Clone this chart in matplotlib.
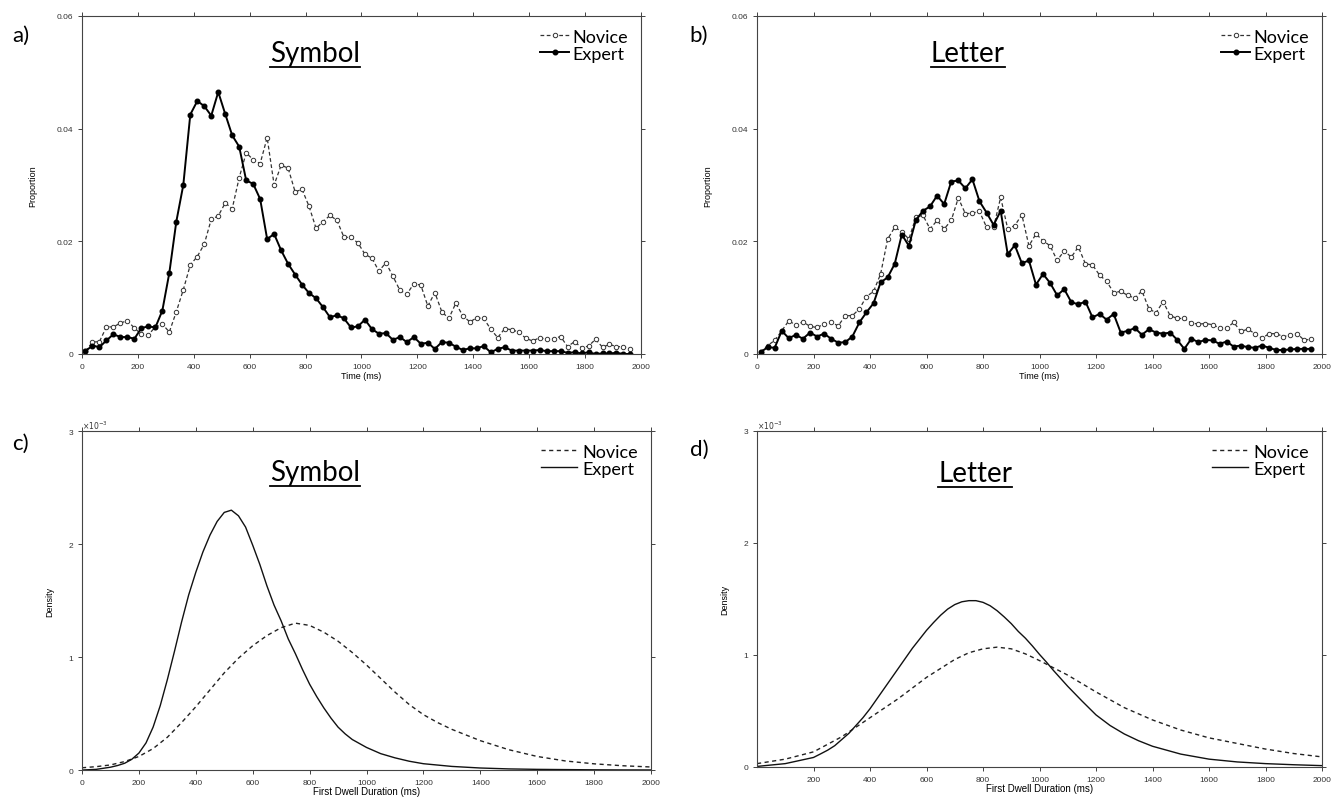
import numpy as np
import matplotlib
matplotlib.use("Agg")
import matplotlib.pyplot as plt

# time bins (ms), 25 ms wide, for the proportion plots
t_bins = np.arange(12.5, 1975, 25)

# panel a - symbol, proportion of first fixations
sym_novice = [0.0005, 0.0021, 0.0022, 0.0048, 0.0048, 0.0055, 0.0059, 0.0046, 0.0035, 0.0034,
              0.0048, 0.0053, 0.0039, 0.0075, 0.0114, 0.0158, 0.0173, 0.0195, 0.0239, 0.0245,
              0.0268, 0.0258, 0.0313, 0.0357, 0.0345, 0.0338, 0.0384, 0.0300, 0.0335, 0.0330,
              0.0288, 0.0292, 0.0262, 0.0223, 0.0235, 0.0246, 0.0237, 0.0207, 0.0207, 0.0197,
              0.0177, 0.0170, 0.0147, 0.0162, 0.0138, 0.0113, 0.0106, 0.0125, 0.0122, 0.0085,
              0.0109, 0.0075, 0.0063, 0.0090, 0.0068, 0.0057, 0.0064, 0.0063, 0.0044, 0.0029,
              0.0045, 0.0043, 0.0039, 0.0028, 0.0023, 0.0029, 0.0026, 0.0027, 0.0031, 0.0013,
              0.0022, 0.0011, 0.0014, 0.0026, 0.0012, 0.0017, 0.0013, 0.0013, 0.0009]
sym_expert = [0.0005, 0.0015, 0.0012, 0.0024, 0.0035, 0.0030, 0.0030, 0.0027, 0.0046, 0.0049,
              0.0047, 0.0077, 0.0144, 0.0235, 0.0300, 0.0425, 0.0449, 0.0440, 0.0423, 0.0465,
              0.0426, 0.0388, 0.0368, 0.0308, 0.0302, 0.0275, 0.0204, 0.0213, 0.0184, 0.0160,
              0.0141, 0.0123, 0.0108, 0.0099, 0.0083, 0.0065, 0.0069, 0.0063, 0.0047, 0.0049,
              0.0061, 0.0044, 0.0036, 0.0037, 0.0025, 0.0030, 0.0021, 0.0030, 0.0018, 0.0020,
              0.0009, 0.0021, 0.0020, 0.0013, 0.0007, 0.0010, 0.0010, 0.0014, 0.0003, 0.0009,
              0.0012, 0.0006, 0.0006, 0.0006, 0.0006, 0.0007, 0.0005, 0.0005, 0.0005, 0.0002,
              0.0003, 0.0001, 0.0003, 0.0000, 0.0001, 0.0001, 0.0002, 0.0000, 0.0000]

# panel b - letter
let_novice = [0.0003, 0.0015, 0.0024, 0.0041, 0.0059, 0.0051, 0.0057, 0.0049, 0.0047, 0.0053,
              0.0056, 0.0050, 0.0068, 0.0068, 0.0080, 0.0102, 0.0111, 0.0142, 0.0204, 0.0225,
              0.0217, 0.0204, 0.0243, 0.0246, 0.0222, 0.0237, 0.0222, 0.0237, 0.0277, 0.0249,
              0.0250, 0.0253, 0.0225, 0.0225, 0.0278, 0.0222, 0.0228, 0.0247, 0.0192, 0.0213,
              0.0201, 0.0192, 0.0166, 0.0183, 0.0172, 0.0190, 0.0160, 0.0158, 0.0140, 0.0129,
              0.0109, 0.0111, 0.0104, 0.0099, 0.0112, 0.0080, 0.0073, 0.0093, 0.0068, 0.0063,
              0.0063, 0.0055, 0.0053, 0.0054, 0.0052, 0.0046, 0.0046, 0.0056, 0.0040, 0.0044,
              0.0036, 0.0028, 0.0036, 0.0036, 0.0031, 0.0033, 0.0036, 0.0024, 0.0027]
let_expert = [0.0003, 0.0012, 0.0011, 0.0041, 0.0028, 0.0034, 0.0027, 0.0038, 0.0031, 0.0036,
              0.0027, 0.0020, 0.0021, 0.0031, 0.0056, 0.0074, 0.0090, 0.0127, 0.0136, 0.0160,
              0.0212, 0.0192, 0.0238, 0.0254, 0.0262, 0.0281, 0.0266, 0.0306, 0.0308, 0.0294,
              0.0310, 0.0271, 0.0251, 0.0229, 0.0254, 0.0177, 0.0193, 0.0161, 0.0166, 0.0123,
              0.0142, 0.0126, 0.0104, 0.0115, 0.0092, 0.0088, 0.0093, 0.0065, 0.0071, 0.0061,
              0.0071, 0.0038, 0.0041, 0.0046, 0.0034, 0.0044, 0.0038, 0.0036, 0.0038, 0.0025,
              0.0009, 0.0027, 0.0021, 0.0025, 0.0024, 0.0018, 0.0022, 0.0013, 0.0015, 0.0012,
              0.0011, 0.0015, 0.0011, 0.0007, 0.0007, 0.0008, 0.0009, 0.0009, 0.0009]

# panel c - symbol, fitted density (x10^-3)
c_x_exp = [0, 50, 100, 125, 150, 175, 200, 225, 250, 275, 300, 325, 350, 375, 400, 425, 450,
           475, 500, 525, 550, 575, 600, 625, 650, 675, 700, 725, 750, 775, 800, 825, 850,
           875, 900, 925, 950, 975, 1000, 1050, 1100, 1150, 1200, 1300, 1400, 1500, 1600,
           1700, 1800, 1900, 2000]
c_expert = [0.0, 0.006, 0.025, 0.04, 0.06, 0.095, 0.15, 0.24, 0.38, 0.57, 0.80, 1.05, 1.31,
            1.55, 1.75, 1.93, 2.08, 2.20, 2.28, 2.30, 2.25, 2.15, 1.99, 1.82, 1.63, 1.46, 1.32,
            1.16, 1.03, 0.89, 0.76, 0.65, 0.55, 0.46, 0.38, 0.32, 0.27, 0.235, 0.20, 0.145,
            0.108, 0.078, 0.056, 0.032, 0.018, 0.010, 0.006, 0.004, 0.002, 0.001, 0.0007]
c_x_nov = [0, 50, 100, 150, 200, 250, 300, 350, 400, 450, 500, 550, 600, 650, 700, 750, 800,
           850, 900, 950, 1000, 1050, 1100, 1150, 1200, 1250, 1300, 1350, 1400, 1450, 1500,
           1600, 1700, 1800, 1900, 2000]
c_novice = [0.02, 0.03, 0.045, 0.075, 0.12, 0.19, 0.29, 0.42, 0.56, 0.71, 0.86, 0.99, 1.10,
            1.19, 1.26, 1.30, 1.28, 1.22, 1.14, 1.04, 0.93, 0.81, 0.69, 0.58, 0.49, 0.42, 0.36,
            0.31, 0.26, 0.22, 0.18, 0.12, 0.08, 0.055, 0.038, 0.027]

# panel d - letter, fitted density (x10^-3)
d_x_exp = [0, 100, 200, 225, 250, 275, 300, 325, 350, 375, 400, 425, 450, 475, 500, 525, 550,
           575, 600, 625, 650, 675, 700, 725, 750, 775, 800, 825, 850, 875, 900, 925, 950,
           975, 1000, 1025, 1050, 1075, 1100, 1150, 1200, 1250, 1300, 1350, 1400, 1500, 1600,
           1700, 1800, 1900, 2000]
d_expert = [0.005, 0.03, 0.085, 0.117, 0.15, 0.19, 0.245, 0.30, 0.37, 0.44, 0.52, 0.61, 0.70,
            0.79, 0.88, 0.97, 1.06, 1.14, 1.22, 1.29, 1.355, 1.41, 1.45, 1.475, 1.485, 1.485,
            1.47, 1.44, 1.395, 1.34, 1.28, 1.21, 1.15, 1.08, 1.005, 0.935, 0.86, 0.79, 0.72,
            0.59, 0.465, 0.37, 0.295, 0.235, 0.185, 0.115, 0.07, 0.045, 0.03, 0.02, 0.012]
d_x_nov = [0, 100, 200, 300, 400, 500, 600, 700, 750, 800, 850, 900, 950, 1000, 1100, 1200,
           1300, 1400, 1500, 1600, 1700, 1800, 1900, 2000]
d_novice = [0.03, 0.07, 0.135, 0.27, 0.44, 0.61, 0.80, 0.96, 1.02, 1.055, 1.07, 1.055, 1.01,
            0.95, 0.82, 0.67, 0.53, 0.42, 0.33, 0.26, 0.21, 0.16, 0.12, 0.09]

TITLE_FONT = "Lato"
TICK_FONT = "Liberation Sans"


def style_axes(ax):
    ax.tick_params(direction="out", length=3, width=0.6, labelsize=6, colors="#222222",
                   top=True, right=True, labelcolor="#333333")
    for lab in ax.get_xticklabels() + ax.get_yticklabels():
        lab.set_family(TICK_FONT)
    for s in ax.spines.values():
        s.set_linewidth(0.8)
        s.set_color("#444444")


def underlined_title(fig, ax, text, x, y):
    t = ax.text(x, y, text, transform=ax.transAxes, ha="center", va="center",
                fontsize=20, family=TITLE_FONT)
    fig.canvas.draw()
    bb = t.get_window_extent().transformed(ax.transAxes.inverted())
    yl = bb.y0 - 0.004
    ax.plot([bb.x0, bb.x1], [yl, yl], transform=ax.transAxes, color="black", lw=1.3,
            clip_on=False)


fig = plt.figure(figsize=(13.42, 8.04), dpi=100)
ax_a = fig.add_axes([0.0611, 0.5585, 0.4165, 0.4204])
ax_b = fig.add_axes([0.5641, 0.5585, 0.4210, 0.4204])
ax_c = fig.add_axes([0.0611, 0.0410, 0.4240, 0.4216])
ax_d = fig.add_axes([0.5641, 0.0448, 0.4210, 0.4179])

# top row: binned proportions
for ax, nov, exp, title, tx in [(ax_a, sym_novice, sym_expert, "Symbol", 0.417),
                                (ax_b, let_novice, let_expert, "Letter", 0.373)]:
    ax.plot(t_bins, nov, ls=(0, (3, 2)), lw=0.9, color="#333333", marker="o", ms=3.2,
            mfc="white", mec="#333333", mew=0.7, label="Novice")
    ax.plot(t_bins, exp, ls="-", lw=1.4, color="black", marker="o", ms=3.3,
            mfc="black", mec="black", label="Expert")
    ax.set_xlim(0, 2000)
    ax.set_ylim(0, 0.06)
    ax.set_xticks(np.arange(0, 2001, 200))
    ax.set_yticks([0, 0.02, 0.04, 0.06])
    ax.set_yticklabels(["0", "0.02", "0.04", "0.06"])
    ax.set_xlabel("Time (ms)", fontsize=6.5, family=TICK_FONT, labelpad=1)
    ax.set_ylabel("Proportion", fontsize=6.5, family=TICK_FONT, labelpad=14)
    style_axes(ax)
    ax.legend(loc="upper right", frameon=False, handlelength=1.6,
              handletextpad=0.2, borderaxespad=0.3, labelspacing=0.05,
              prop={"family": TITLE_FONT, "size": 13})
    underlined_title(fig, ax, title, tx, 0.89)

# bottom row: fitted densities
for ax, xe, ye, xn, yn, title, tx, ty in [
        (ax_c, c_x_exp, c_expert, c_x_nov, c_novice, "Symbol", 0.41, 0.88),
        (ax_d, d_x_exp, d_expert, d_x_nov, d_novice, "Letter", 0.386, 0.875)]:
    ax.plot(xn, yn, ls=(0, (3, 2.5)), lw=1.0, color="#222222", label="Novice")
    ax.plot(xe, ye, ls="-", lw=1.0, color="#111111", label="Expert")
    ax.set_xlim(0, 2000)
    ax.set_ylim(0, 3)
    ax.set_yticks([0, 1, 2, 3])
    ax.set_ylabel("Density", fontsize=6.5, family=TICK_FONT, labelpad=10)
    ax.set_xlabel("First Dwell Duration (ms)", fontsize=7, family=TICK_FONT, labelpad=0)
    ax.text(0.0, 1.0, r"$\times10^{-3}$", transform=ax.transAxes, fontsize=5.5,
            color="#333333", va="bottom", ha="left")
    ax.legend(loc="upper right", frameon=False, handlelength=2.0,
              handletextpad=0.3, borderaxespad=0.3, labelspacing=0.05,
              prop={"family": TITLE_FONT, "size": 13})
    underlined_title(fig, ax, title, tx, ty)

ax_c.set_xticks(np.arange(0, 2001, 200))
ax_d.set_xticks(np.arange(200, 2001, 200))
style_axes(ax_c)
style_axes(ax_d)

# panel letters
for lab, x, y in [("a)", 0.009, 0.955), ("b)", 0.514, 0.955),
                  ("c)", 0.009, 0.448), ("d)", 0.514, 0.44)]:
    fig.text(x, y, lab, fontsize=16, family=TITLE_FONT, va="center")

fig.savefig("out.png", dpi=100)
